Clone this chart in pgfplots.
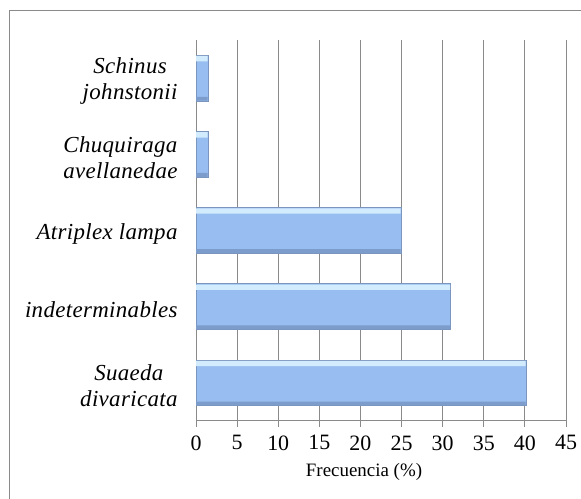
\documentclass[border=0pt]{standalone}
\usepackage{pgfplots}
\pgfplotsset{compat=1.18}
\usepackage{fontspec}
\setmainfont{Liberation Serif}
\newfontfamily\labfont{Liberation Serif}[LetterSpace=1.5]
\definecolor{gridgray}{HTML}{8A8A8A}
\definecolor{barmid}{HTML}{98BDF0}
\definecolor{bartop}{HTML}{D2ECFD}
\definecolor{barbot}{HTML}{7C9CCB}
\definecolor{baredge}{HTML}{7A95BE}
\begin{document}
\begin{tikzpicture}[x=1bp,y=1bp]
\useasboundingbox (0,0) rectangle (581,499);
\draw[gridgray, line width=1bp] (9.5,-10) -- (9.5,488.5) -- (600,488.5);
\begin{axis}[
  at={(196bp,78bp)}, anchor=south west,
  scale only axis, width=370bp, height=381bp,
  xmin=0, xmax=45, ymin=-0.5, ymax=4.5,
  axis lines*=left, axis line style={gridgray, line width=1bp, -},
  xtick={0,5,...,45},
  xmajorgrids, grid style={gridgray, line width=1bp},
  tick align=outside, major tick length=6bp,
  tick style={gridgray, line width=1bp},
  ytick={0,1,2,3,4},
  yticklabels={{Suaeda\\divaricata},{indeterminables},{Atriplex lampa},{Chuquiraga\\avellanedae},{Schinus\\johnstonii}},
  y tick style={draw=none},
  minor ytick={-0.5,0.5,1.5,2.5,3.5,4.5},
  minor tick length=7bp,
  minor y tick style={gridgray, line width=1bp},
  yticklabel style={font=\fontsize{23}{26}\selectfont\labfont\itshape, align=center, anchor=east, xshift=-9bp, yshift=-3bp},
  xticklabel style={font=\fontsize{22}{24}\selectfont, yshift=-5bp},
  /pgf/number format/assume math mode=true,
  xlabel={Frecuencia (\%)},
  xlabel style={font=\fontsize{19}{21}\selectfont, yshift=-6bp, xshift=-17bp},
  clip=false,
]
\addplot[xbar, bar width=0.6, draw=baredge, line width=0.8bp, fill=barmid]
  coordinates {(40.2,0) (31.0,1) (25.0,2) (1.5,3) (1.5,4)};
\addplot[xbar, bar width=0.07, bar shift=0.255, draw=none, fill=bartop]
  coordinates {(40.1,0) (30.9,1) (24.9,2) (1.4,3) (1.4,4)};
\addplot[xbar, bar width=0.05, bar shift=-0.27, draw=none, fill=barbot]
  coordinates {(40.1,0) (30.9,1) (24.9,2) (1.4,3) (1.4,4)};
\end{axis}
\end{tikzpicture}
\end{document}
